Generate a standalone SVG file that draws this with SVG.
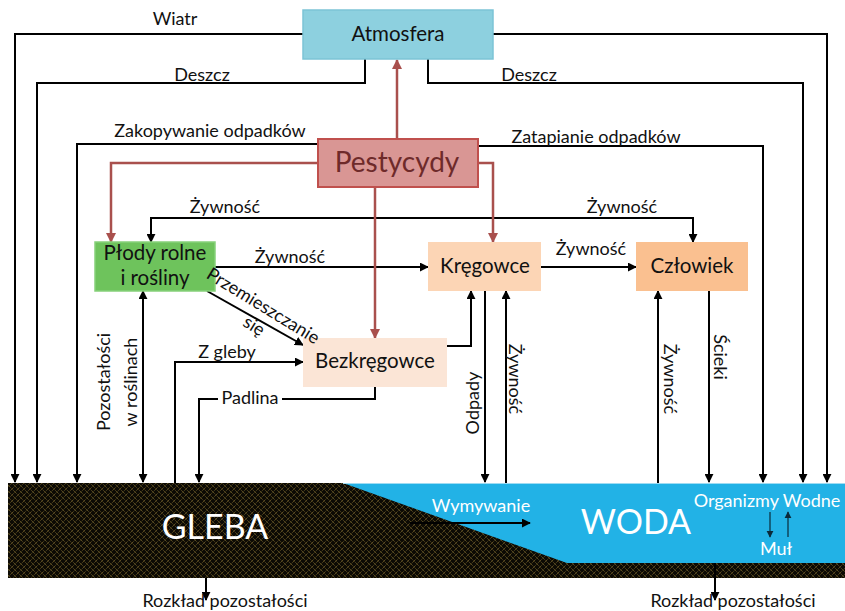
<svg xmlns="http://www.w3.org/2000/svg" width="845" height="611" viewBox="0 0 845 611">
  <style>
    text { font-family: Lato, "Liberation Sans", sans-serif; fill: #111; }
    .lbl { font-size: 18px; text-anchor: middle; }
    .node { font-size: 20.5px; text-anchor: middle; }
    .wt { fill: #ffffff; text-anchor: middle; }
    .ln { fill: none; stroke: #000; stroke-width: 2; }
    .red { fill: none; stroke: #A9504D; stroke-width: 2.5; }
    .thin { fill: none; stroke: #0b2a3a; stroke-width: 1.2; }
  </style>
  <defs>
    <marker id="ah" viewBox="0 0 10 10" refX="9" refY="5" markerWidth="4.5" markerHeight="4.5" orient="auto-start-reverse">
      <path d="M0,0 L10,5 L0,10 z" fill="#000"/>
    </marker>
    <marker id="ahr" viewBox="0 0 10 10" refX="9" refY="5" markerWidth="4" markerHeight="4" orient="auto">
      <path d="M0,0 L10,5 L0,10 z" fill="#A9504D"/>
    </marker>
    <marker id="ahs" viewBox="0 0 10 10" refX="9" refY="5" markerWidth="6" markerHeight="6" orient="auto">
      <path d="M0,0 L10,5 L0,10 z" fill="#0b2a3a"/>
    </marker>
    <pattern id="soil" width="6" height="6" patternUnits="userSpaceOnUse">
      <rect width="6" height="6" fill="#0c0a04"/>
      <path d="M0,3 L3,0 L6,3 L3,6 z" fill="none" stroke="#75622a" stroke-width="0.9" stroke-dasharray="1.2 0.9"/>
    </pattern>
  </defs>

  <!-- ground and water band -->
  <g id="ground">
    <rect x="8" y="483" width="837" height="95" fill="url(#soil)"/>
    <polygon points="343,483 845,483 845,563 567,563" fill="#22B2E6"/>
    <line x1="343" y1="483.5" x2="845" y2="483.5" stroke="#9fdcf3" stroke-width="1"/>
    <text class="wt" x="215" y="539" font-size="34">GLEBA</text>
    <text class="wt" x="636" y="534" font-size="34">WODA</text>
    <text class="wt" x="481" y="512" font-size="18">Wymywanie</text>
    <text class="wt" x="767" y="507" font-size="18">Organizmy Wodne</text>
    <text class="wt" x="776" y="555" font-size="18">Muł</text>
    <line class="thin" x1="770" y1="512" x2="770" y2="537" marker-end="url(#ahs)"/>
    <line class="thin" x1="788" y1="537" x2="788" y2="512" marker-end="url(#ahs)"/>
    <line class="ln" x1="410" y1="523" x2="530" y2="523" marker-end="url(#ah)"/>
  </g>

  <!-- connectors -->
  <g id="connectors">
    <!-- atmosphere outputs -->
    <polyline class="ln" points="303,34 15,34 15,482" marker-end="url(#ah)"/>
    <polyline class="ln" points="493,34 827,34 827,482" marker-end="url(#ah)"/>
    <polyline class="ln" points="365,59 365,83 37,83 37,482" marker-end="url(#ah)"/>
    <polyline class="ln" points="428,59 428,83 803,83 803,482" marker-end="url(#ah)"/>
    <!-- waste disposal -->
    <polyline class="ln" points="318,144 77,144 77,482" marker-end="url(#ah)"/>
    <polyline class="ln" points="478,146 763,146 763,482" marker-end="url(#ah)"/>
    <!-- food links -->
    <polyline class="ln" points="151,242 151,218 693,218 693,242" marker-start="url(#ah)" marker-end="url(#ah)"/>
    <line class="ln" x1="215" y1="267" x2="428" y2="267" marker-end="url(#ah)"/>
    <line class="ln" x1="541" y1="267" x2="636" y2="267" marker-end="url(#ah)"/>
    <line class="ln" x1="207" y1="291" x2="303" y2="345" marker-end="url(#ah)"/>
    <polyline class="ln" points="175,483 175,362 303,362" marker-end="url(#ah)"/>
    <polyline class="ln" points="375,387 375,399 199,399 199,482" marker-end="url(#ah)"/>
    <polyline class="ln" points="447,346 471,346 471,291" marker-end="url(#ah)"/>
    <line class="ln" x1="143" y1="291" x2="143" y2="482" marker-start="url(#ah)" marker-end="url(#ah)"/>
    <line class="ln" x1="485" y1="291" x2="485" y2="482" marker-end="url(#ah)"/>
    <line class="ln" x1="506" y1="483" x2="506" y2="291" marker-end="url(#ah)"/>
    <line class="ln" x1="658" y1="483" x2="658" y2="291" marker-end="url(#ah)"/>
    <line class="ln" x1="709" y1="291" x2="709" y2="482" marker-end="url(#ah)"/>
    <line class="ln" x1="206" y1="578" x2="206" y2="600" marker-end="url(#ah)"/>
    <line class="ln" x1="715" y1="563" x2="715" y2="600" marker-end="url(#ah)"/>
    <!-- pesticide spread -->
    <line class="red" x1="397" y1="138" x2="397" y2="60" marker-end="url(#ahr)"/>
    <polyline class="red" points="318,163 111,163 111,242" marker-end="url(#ahr)"/>
    <polyline class="red" points="478,163 493,163 493,242" marker-end="url(#ahr)"/>
    <line class="red" x1="375" y1="187" x2="375" y2="338" marker-end="url(#ahr)"/>
  </g>

  <!-- nodes -->
  <g id="atmosfera">
    <rect x="303" y="10" width="190" height="49" fill="#8DD0DF" stroke="#7CC4D6" stroke-width="1.5"/>
    <text class="node" x="398" y="41">Atmosfera</text>
  </g>
  <g id="pestycydy">
    <rect x="318" y="139" width="160" height="48" fill="#D99694" stroke="#C0504D" stroke-width="2"/>
    <text x="397" y="172" font-size="28" text-anchor="middle" style="fill:#6E2A2A">Pestycydy</text>
  </g>
  <g id="plody">
    <rect x="95" y="242" width="120" height="49" fill="#6EC35C" stroke="#86D17A" stroke-width="1.5"/>
    <text class="node" x="155" y="260" font-size="19">Płody rolne</text>
    <text class="node" x="155" y="285" font-size="19">i rośliny</text>
  </g>
  <g id="kregowce">
    <rect x="428" y="242" width="113" height="49" fill="#FCD5B5"/>
    <text class="node" x="485" y="273">Kręgowce</text>
  </g>
  <g id="czlowiek">
    <rect x="636" y="242" width="112" height="49" fill="#FAC090"/>
    <text class="node" x="692" y="273">Człowiek</text>
  </g>
  <g id="bezkregowce">
    <rect x="303" y="338" width="144" height="49" fill="#FBE5D6"/>
    <text class="node" x="375" y="368">Bezkręgowce</text>
  </g>

  <!-- connector labels, drawn above the boxes -->
  <g id="connector-labels">
    <text class="lbl" x="175" y="25">Wiatr</text>
    <text class="lbl" x="202" y="81">Deszcz</text>
    <text class="lbl" x="529" y="81">Deszcz</text>
    <text class="lbl" x="210" y="137">Zakopywanie odpadków</text>
    <text class="lbl" x="596" y="143">Zatapianie odpadków</text>
    <text class="lbl" x="225" y="213">Żywność</text>
    <text class="lbl" x="622" y="213">Żywność</text>
    <text class="lbl" x="290" y="263">Żywność</text>
    <text class="lbl" x="591" y="255">Żywność</text>
    <text class="lbl" x="227" y="358">Z gleby</text>
    <rect x="218" y="390" width="64" height="17" fill="#fff"/>
    <text class="lbl" x="250" y="404">Padlina</text>
    <text class="lbl" font-size="17" transform="translate(260,311) rotate(31.5)">Przemieszczanie</text>
    <text class="lbl" transform="translate(251,331) rotate(31.5)">się</text>
    <text class="lbl" transform="translate(110,382) rotate(-90)">Pozostałości</text>
    <text class="lbl" transform="translate(137,382) rotate(-90)">w roślinach</text>
    <text class="lbl" transform="translate(479,403) rotate(-90)">Odpady</text>
    <text class="lbl" transform="translate(509,379) rotate(90)">Żywność</text>
    <text class="lbl" transform="translate(664,379) rotate(90)">Żywność</text>
    <text class="lbl" transform="translate(714,357) rotate(90)">Ścieki</text>
    <text class="lbl" x="225" y="607">Rozkład pozostałości</text>
    <text class="lbl" x="733" y="607">Rozkład pozostałości</text>
  </g>
</svg>
